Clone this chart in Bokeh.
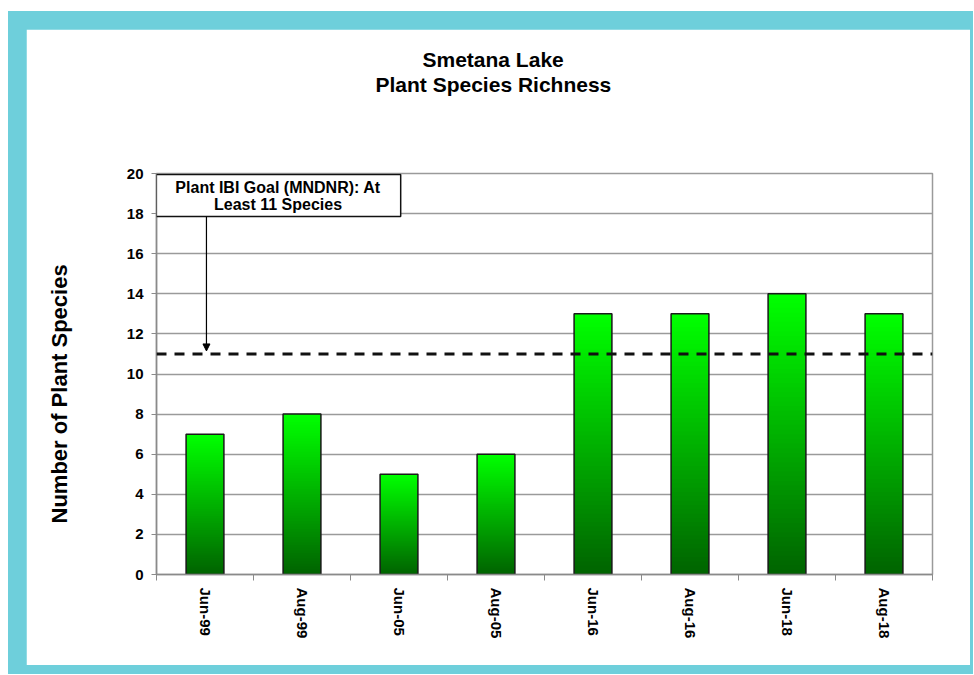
from bokeh.plotting import figure
from bokeh.models import (Range1d, FixedTicker, Span, Label, Arrow, NormalHead,
                          ColumnDataSource, Title)
from bokeh.layouts import column
from bokeh.embed import file_html
from bokeh.resources import INLINE

# ---- data ----
categories = ["Jun-99", "Aug-99", "Jun-05", "Aug-05", "Jun-16", "Aug-16", "Jun-18", "Aug-18"]
species = [7, 8, 5, 6, 13, 13, 14, 13]
goal = 11
y_ticks = [0, 2, 4, 6, 8, 10, 12, 14, 16, 18, 20]

FONT = "Liberation Sans"

p = figure(width=944, height=636, output_backend="svg", toolbar_location=None,
           x_range=Range1d(-0.5, len(categories) - 0.5), y_range=Range1d(0, 20),
           min_border_left=130, min_border_right=38, min_border_top=144, min_border_bottom=91,
           background_fill_color="white", border_fill_color="white")
p.outline_line_color = "#9a9a9a"
p.outline_line_width = 1.5

# gradient bars: overlapping slices per bar (each from its level up to the bar top)
N = 60
xs, bottoms, tops, colors = [], [], [], []
for i, v in enumerate(species):
    for k in range(N):
        t = k / (N - 1)
        g = int(round(100 + (255 - 100) * t))
        xs.append(i)
        bottoms.append(v * k / N)
        tops.append(v)
        colors.append("#00%02x00" % g)
src = ColumnDataSource(dict(x=xs, bottom=bottoms, top=tops, color=colors))
p.vbar(x="x", bottom="bottom", top="top", width=0.39, fill_color="color", line_color=None,
       source=src)
p.vbar(x=list(range(len(categories))), top=species, width=0.39, fill_color=None,
       line_color="#1a1a1a", line_width=1.5)

# goal line
p.add_layout(Span(location=goal, dimension="width", line_color="#111111", line_width=3,
                  line_dash="10 8"))

# axes
p.xgrid.grid_line_color = None
p.ygrid.grid_line_color = "#9a9a9a"
p.ygrid.grid_line_width = 1.5
p.yaxis.ticker = FixedTicker(ticks=y_ticks)
p.yaxis.axis_line_color = "#8a8a8a"
p.yaxis.axis_line_width = 1.5
p.yaxis.major_tick_line_color = "#8a8a8a"
p.yaxis.major_tick_out = 5
p.yaxis.major_tick_in = 0
p.yaxis.minor_tick_line_color = None
p.yaxis.major_label_standoff = 8
p.yaxis.major_label_text_font = FONT
p.yaxis.major_label_text_font_style = "bold"
p.yaxis.major_label_text_font_size = "15px"
p.yaxis.major_label_text_color = "black"

centers = list(range(len(categories)))
p.xaxis.ticker = FixedTicker(ticks=centers, minor_ticks=[c - 0.5 for c in range(len(categories) + 1)])
p.xaxis.major_label_overrides = {c: lab for c, lab in zip(centers, categories)}
p.xaxis.major_label_orientation = "vertical"
p.xaxis.major_tick_line_color = None
p.xaxis.major_tick_out = 0
p.xaxis.major_tick_in = 0
p.xaxis.minor_tick_line_color = "#8a8a8a"
p.xaxis.minor_tick_out = 6
p.xaxis.minor_tick_in = 0
p.xaxis.axis_line_color = "#8a8a8a"
p.xaxis.axis_line_width = 1.5
p.xaxis.major_label_standoff = 7
p.xaxis.major_label_text_font = FONT
p.xaxis.major_label_text_font_style = "bold"
p.xaxis.major_label_text_font_size = "15px"
p.xaxis.major_label_text_color = "black"

def title(text, size, offset, standoff=0):
    return Title(text=text, align="left", offset=offset, standoff=standoff,
                 text_font=FONT, text_font_style="bold", text_font_size=size,
                 text_color="black")

# y axis title (left side: spacer next to the axis, then the title)
p.add_layout(title(" ", "10px", 0, standoff=39), "left")
p.add_layout(title("Number of Plant Species", "22px", 51), "left")

# chart title (above: spacer next to the frame, then line 2, then line 1)
p.add_layout(title(" ", "10px", 0, standoff=65), "above")
p.add_layout(title("Plant Species Richness", "21px", 219), "above")
p.add_layout(title("Smetana Lake", "21px", 266), "above")

# annotation box + arrow
p.add_layout(Label(x=0.758, y=18.9, text="Plant IBI Goal (MNDNR): At\nLeast 11 Species",
                   text_align="center", text_baseline="middle", text_font=FONT,
                   text_font_style="bold", text_font_size="16px", text_color="black",
                   text_line_height=1.0,
                   border_line_color="#111111", border_line_width=1.5,
                   background_fill_color="white",
                   padding=dict(left=19, right=20, top=4, bottom=4)))
p.add_layout(Arrow(x_start=0.015, y_start=17.85, x_end=0.015, y_end=11.15,
                   line_color="black", line_width=1.2,
                   end=NormalHead(size=7, fill_color="black", line_color="black")))

layout = column(p, styles={"background-color": "#6ECFDB", "padding": "18px 3px 9px 18px",
                           "margin-top": "11px", "margin-left": "8px"})

open("out.html", "w").write(file_html(layout, INLINE))
